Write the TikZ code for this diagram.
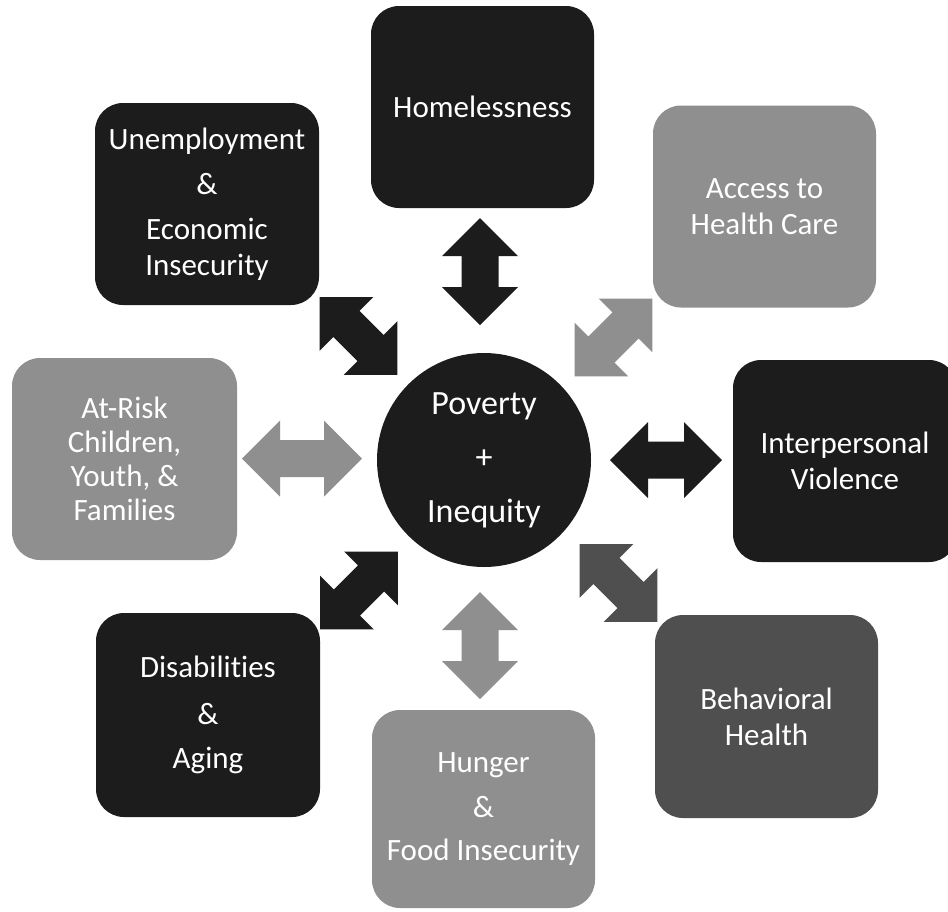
\documentclass[tikz,border=0pt]{standalone}
\usepackage{fontspec}
\setmainfont[Ligatures=NoCommon]{Carlito}
\begin{document}
\begin{tikzpicture}[x=1pt,y=-1pt]
\definecolor{dk}{gray}{0.11}
\definecolor{lt}{gray}{0.56}
\definecolor{md}{gray}{0.31}
\tikzset{
  box/.style={rounded corners=28pt, minimum width=223pt, minimum height=202pt,
    inner sep=0pt, text=white, align=center, font=\fontsize{31}{36}\selectfont},
  hub/.style={circle, minimum size=214pt, inner sep=0pt, fill=dk, text=white,
    align=center, font=\fontsize{34}{40}\selectfont},
  pics/dblarrow/.style={code={
    \fill[pic actions] (-#1,0) -- (-#1+38,-38) -- (-#1+38,-18.5) -- (#1-38,-18.5)
      -- (#1-38,-38) -- (#1,0) -- (#1-38,38) -- (#1-38,18.5) -- (-#1+38,18.5)
      -- (-#1+38,38) -- cycle;
  }}
}
\useasboundingbox[fill=white] (0,0) rectangle (948,911);

% boxes
\node[box, fill=dk] (home) at (482.5,107) {Homelessness};
\node[box, fill=dk, minimum width=224pt] (unemp) at (207,204)
  {Unemployment\\[9pt]\&\\[9pt]Economic\\Insecurity};
\node[box, fill=lt] (access) at (764.5,206.5) {Access to\\Health Care};
\node[box, fill=lt, minimum width=225pt, font=\fontsize{31}{34}\selectfont] (atrisk) at (124.5,459)
  {At-Risk\\Children,\\Youth, \&\\Families};
\node[box, fill=dk, minimum width=224pt] (interp) at (845,461) {Interpersonal\\Violence};
\node[box, fill=dk, minimum width=224pt, minimum height=204pt] (disab) at (208,715)
  {Disabilities\\[11pt]\&\\[8pt]Aging};
\node[box, fill=md, minimum height=203pt] (behav) at (766.5,716.5) {Behavioral\\Health};
\node[box, fill=lt, minimum height=198pt] (hunger) at (483.5,809)
  {Hunger\\[9pt]\&\\[7pt]Food Insecurity};

% hub
\node[hub] (hub) at (484,460) {Poverty\\[14pt]+\\[14pt]Inequity};

% arrows
\pic (aHome)   [fill=dk, rotate=90]  at (480,271.5) {dblarrow=53.5};
\pic (aHunger) [fill=lt, rotate=90]  at (480,645.5) {dblarrow=53.5};
\pic (aAtrisk) [fill=lt]             at (302,458.5) {dblarrow=60};
\pic (aInterp) [fill=dk]             at (666,460)   {dblarrow=56};
\pic (aUnemp)  [fill=dk, rotate=-45] at (358.5,336) {dblarrow=55};
\pic (aAccess) [fill=lt, rotate=45]  at (613.5,337.5) {dblarrow=55};
\pic (aDisab)  [fill=dk, rotate=45]  at (359,590.5) {dblarrow=55};
\pic (aBehav)  [fill=md, rotate=-45] at (618.5,583) {dblarrow=55};
\end{tikzpicture}
\end{document}
